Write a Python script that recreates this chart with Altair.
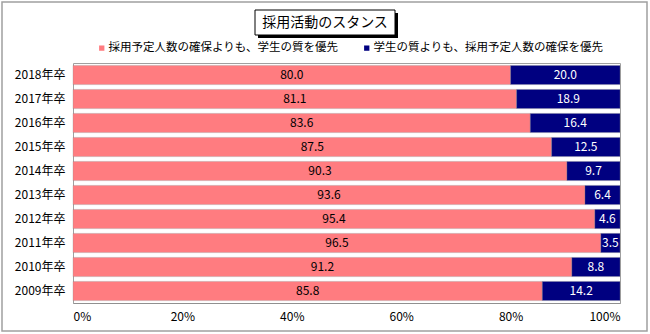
import altair as alt
import pandas as pd

years = ["2018年卒", "2017年卒", "2016年卒", "2015年卒", "2014年卒",
         "2013年卒", "2012年卒", "2011年卒", "2010年卒", "2009年卒"]
quantity_first = [80.0, 81.1, 83.6, 87.5, 90.3, 93.6, 95.4, 96.5, 91.2, 85.8]
quality_first = [20.0, 18.9, 16.4, 12.5, 9.7, 6.4, 4.6, 3.5, 8.8, 14.2]
series = ["採用予定人数の確保よりも、学生の質を優先", "学生の質よりも、採用予定人数の確保を優先"]
colors = ["#FF7C80", "#000080"]
label_colors = ["black", "white"]
title_text = "採用活動のスタンス"
x_ticks = [0, 20, 40, 60, 80, 100]

rows = []
for y, a, b in zip(years, quantity_first, quality_first):
    rows.append({"year": y, "series": series[0], "order": 0, "value": a})
    rows.append({"year": y, "series": series[1], "order": 1, "value": b})
df = pd.DataFrame(rows)

FONT = "Noto Sans CJK JP"

base = alt.Chart(df).transform_stack(
    stack="value", as_=["v0", "v1"], groupby=["year"], sort=[alt.SortField("order")]
).transform_calculate(
    mid="(datum.v0 + datum.v1) / 2",
    label="format(datum.value, '.1f')"
)

xscale = alt.Scale(domain=[0, 100], nice=False, zero=True)
yscale = alt.Scale(paddingInner=0.2, paddingOuter=0.1)

bars = base.mark_bar(stroke="#888888", strokeWidth=0.3).encode(
    x=alt.X("v0:Q", scale=xscale,
            axis=alt.Axis(values=x_ticks, labelExpr="datum.value + '%'", title=None,
                          grid=False, ticks=False, labelPadding=8, domainColor="#909090",
                          labelFont=FONT, labelFontSize=12, labelColor="black")),
    x2="v1:Q",
    y=alt.Y("year:N", sort=years, scale=yscale,
            axis=alt.Axis(title=None, ticks=False, domain=False, labelPadding=8,
                          labelFont=FONT, labelFontSize=12, labelColor="black")),
    color=alt.Color("series:N", sort=series,
                    scale=alt.Scale(domain=series, range=colors),
                    legend=alt.Legend(orient="none", legendX=23, legendY=-21,
                                      direction="horizontal", title=None,
                                      symbolType="square", symbolSize=28,
                                      symbolStrokeWidth=0, labelOffset=1,
                                      columnPadding=22, labelLimit=0,
                                      labelFont=FONT, labelFontSize=11.5, labelColor="black")),
)

texts = base.mark_text(font=FONT, fontSize=12).encode(
    x=alt.X("mid:Q", scale=xscale),
    y=alt.Y("year:N", sort=years, scale=yscale),
    text="label:N",
    color=alt.Color("series:N", scale=alt.Scale(domain=series, range=label_colors), legend=None),
)

one = pd.DataFrame({"t": [title_text]})
frame = alt.Chart(one).mark_rect(fill=None, stroke="#a0a0a0", strokeWidth=1.5).encode(
    x=alt.value(-71), x2=alt.value(574), y=alt.value(-61), y2=alt.value(268))
shadow = alt.Chart(one).mark_rect(fill="black").encode(
    x=alt.value(185), x2=alt.value(325), y=alt.value(-50), y2=alt.value(-25))
tbox = alt.Chart(one).mark_rect(fill="white", stroke="black", strokeWidth=1).encode(
    x=alt.value(182), x2=alt.value(322), y=alt.value(-53), y2=alt.value(-28))
ttext = alt.Chart(one).mark_text(font=FONT, fontSize=14, color="black", baseline="middle").encode(
    x=alt.value(252), y=alt.value(-40.5), text="t:N")

chart = alt.layer(frame, bars, texts, shadow, tbox, ttext).resolve_scale(color="independent").properties(
    width=547, height=240,
    padding={"left": 73, "top": 63, "right": 30, "bottom": 31},
    autosize=alt.AutoSizeParams(type="none"),
    background="white",
).configure_view(stroke="#a0a0a0", strokeWidth=1)

chart.save("out.html", embed_options={"renderer": "svg", "actions": False})
